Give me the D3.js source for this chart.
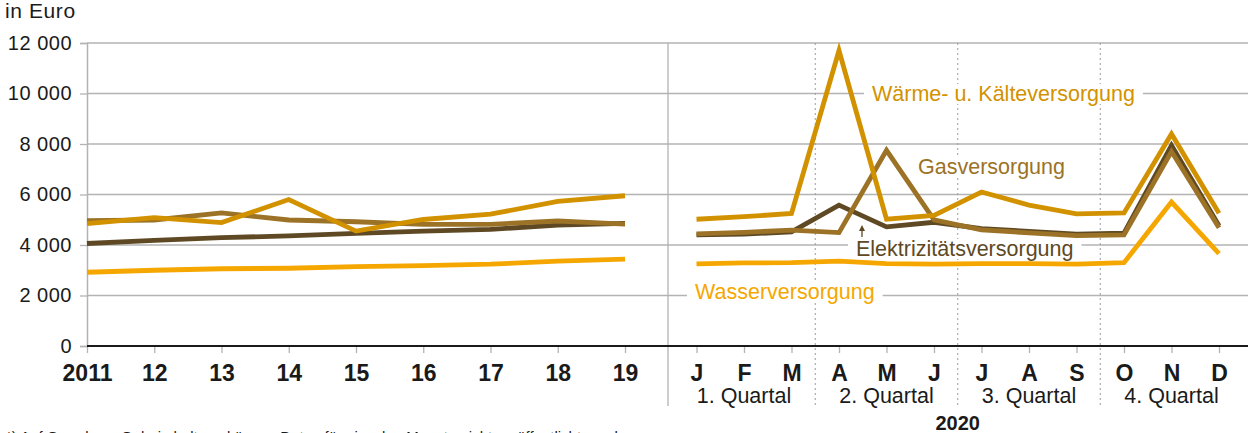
<!DOCTYPE html>
<html>
<head>
<meta charset="utf-8">
<script src="https://cdn.jsdelivr.net/npm/d3@7"></script>
<style>
  body { margin: 0; background: #fff; }
  text { font-family: "Liberation Sans", Arial, sans-serif; }
</style>
</head>
<body>
<script>
var years = ["2011", "12", "13", "14", "15", "16", "17", "18", "19"];
var months = ["J", "F", "M", "A", "M", "J", "J", "A", "S", "O", "N", "D"];
var quarters = ["1. Quartal", "2. Quartal", "3. Quartal", "4. Quartal"];
var yTicks = [0, 2000, 4000, 6000, 8000, 10000, 12000];

var waermeYears = [4850, 5080, 4890, 5800, 4550, 5010, 5220, 5730, 5950];
var gasYears = [4960, 4990, 5270, 4990, 4920, 4820, 4820, 4950, 4830];
var elektYears = [4060, 4180, 4290, 4360, 4460, 4550, 4620, 4790, 4860];
var wasserYears = [2920, 3000, 3060, 3080, 3140, 3180, 3240, 3360, 3440];

var waermeMonths = [5020, 5120, 5250, 11700, 5020, 5170, 6100, 5580, 5230, 5270, 8400, 5260];
var gasMonths = [4440, 4500, 4590, 4490, 7750, 5000, 4600, 4480, 4370, 4400, 7700, 4680];
var elektMonths = [4400, 4430, 4520, 5580, 4720, 4900, 4650, 4540, 4430, 4470, 7950, 4760];
var wasserMonths = [3250, 3290, 3300, 3360, 3260, 3240, 3260, 3260, 3240, 3300, 5700, 3660];

var series = [
  {name: "Wasserversorgung", color: "#f5a700", years: wasserYears, months: wasserMonths},
  {name: "Elektrizitätsversorgung", color: "#5e4924", years: elektYears, months: elektMonths},
  {name: "Gasversorgung", color: "#9b7226", years: gasYears, months: gasMonths},
  {name: "Wärme- u. Kälteversorgung", color: "#d29200", years: waermeYears, months: waermeMonths}
];

var W = 1248, H = 433;
var plotL = 87, plotR = 1248, plotT = 43, plotB = 346;

var svg = d3.select("body").append("svg")
    .attr("width", W)
    .attr("height", H);

var y = d3.scaleLinear().domain([0, 12000]).range([plotB, plotT]);
var xYear = d3.scalePoint().domain(years).range([87, 625]);
var xMonth = d3.scalePoint().domain(d3.range(12)).range([696.5, 1219]);
var step = xMonth.step();

// gridlines
svg.append("g").selectAll("line")
    .data(yTicks.filter(function(d) { return d > 0; }))
    .enter().append("line")
    .attr("x1", plotL).attr("x2", plotR)
    .attr("y1", function(d) { return y(d); })
    .attr("y2", function(d) { return y(d); })
    .attr("stroke", "#b3b3b3")
    .attr("stroke-width", 1.3);

// y axis
var yAxis = d3.axisLeft(y).tickValues(yTicks).tickSize(7).tickPadding(8)
    .tickFormat(function(d) { return d3.format(",")(d).replace(",", " "); });
var gy = svg.append("g").attr("transform", "translate(" + plotL + ",0)").call(yAxis);
gy.select(".domain").attr("stroke", "#b3b3b3").attr("stroke-width", 1.5);
gy.selectAll(".tick line").attr("stroke", "#b3b3b3").attr("stroke-width", 1.3);
gy.selectAll(".tick text")
    .attr("font-size", 20).attr("fill", "#1a1a1a")
    .style("font-family", "Liberation Sans, Arial, sans-serif")
    .style("letter-spacing", "0.5px");

svg.append("text").attr("x", 5).attr("y", 18)
    .attr("font-size", 21).attr("fill", "#1a1a1a")
    .style("letter-spacing", "0.6px").text("in Euro");

// divider and quarter separators
svg.append("line").attr("x1", 668).attr("x2", 668).attr("y1", plotT).attr("y2", 406)
    .attr("stroke", "#b3b3b3").attr("stroke-width", 1.3);
svg.append("g").selectAll("line")
    .data([1, 2, 3])
    .enter().append("line")
    .attr("x1", function(q) { return xMonth(q * 3) - step / 2; })
    .attr("x2", function(q) { return xMonth(q * 3) - step / 2; })
    .attr("y1", plotT).attr("y2", 406)
    .attr("stroke", "#9a9a9a").attr("stroke-width", 1)
    .attr("stroke-dasharray", "2,3");

// x axes
var gx1 = svg.append("g").attr("transform", "translate(0," + plotB + ")")
    .call(d3.axisBottom(xYear).tickSize(7).tickPadding(12));
var gx2 = svg.append("g").attr("transform", "translate(0," + plotB + ")")
    .call(d3.axisBottom(xMonth).tickSize(7).tickPadding(12)
      .tickFormat(function(i) { return months[i]; }));
[gx1, gx2].forEach(function(g) {
  g.select(".domain").remove();
  g.selectAll(".tick line").attr("stroke", "#b3b3b3").attr("stroke-width", 1.3);
  g.selectAll(".tick text")
      .attr("font-size", 23).attr("font-weight", "bold").attr("fill", "#1a1a1a")
      .style("font-family", "Liberation Sans, Arial, sans-serif");
});
svg.append("line").attr("x1", plotL).attr("x2", plotR).attr("y1", plotB).attr("y2", plotB)
    .attr("stroke", "#1a1a1a").attr("stroke-width", 2);

svg.append("g").selectAll("text")
    .data(quarters)
    .enter().append("text")
    .attr("x", function(d, i) { return xMonth(i * 3 + 1); })
    .attr("y", 403)
    .attr("text-anchor", "middle")
    .attr("font-size", 21.5).attr("fill", "#1a1a1a")
    .text(function(d) { return d; });

svg.append("text").attr("x", xMonth(5) + step / 2).attr("y", 430)
    .attr("text-anchor", "middle").attr("font-size", 20).attr("font-weight", "bold")
    .attr("fill", "#1a1a1a").text("2020");

svg.append("text").attr("x", 6).attr("y", 442)
    .attr("font-size", 15).attr("fill", "#1a1a1a")
    .text("*)  Auf Grund von Geheimhaltung können Daten für einzelne Monate nicht veröffentlicht werden.");

// series labels (white background cuts the gridlines)
var labels = [
  {s: 3, x: 872, y: 101, arrow: false},
  {s: 2, x: 918, y: 174, arrow: false},
  {s: 1, x: 856, y: 256, arrow: true},
  {s: 0, x: 695, y: 299, arrow: false}
];
var lg = svg.append("g");
labels.forEach(function(l) {
  var t = lg.append("text").attr("x", l.x).attr("y", l.y)
      .attr("font-size", 21.5).attr("fill", series[l.s].color)
      .text(series[l.s].name);
  var bb = t.node().getBBox();
  lg.insert("rect", "text")
      .attr("x", bb.x - 8).attr("y", bb.y + 2)
      .attr("width", bb.width + 16).attr("height", bb.height - 4)
      .attr("fill", "#fff");
  if (l.arrow) {
    var ax = l.x + 6;
    lg.append("line").attr("x1", ax).attr("x2", ax)
        .attr("y1", l.y - 19).attr("y2", l.y - 27)
        .attr("stroke", series[l.s].color).attr("stroke-width", 1.3);
    lg.append("path")
        .attr("d", "M" + (ax - 3) + "," + (l.y - 25) + "L" + ax + "," + (l.y - 31) + "L" + (ax + 3) + "," + (l.y - 25) + "Z")
        .attr("fill", series[l.s].color);
  }
});

// lines
var lineYear = d3.line()
    .x(function(d, i) { return xYear(years[i]); })
    .y(function(d) { return y(d); });
var lineMonth = d3.line()
    .x(function(d, i) { return xMonth(i); })
    .y(function(d) { return y(d); });

var lines = svg.append("g");
series.forEach(function(s) {
  [lineYear(s.years), lineMonth(s.months)].forEach(function(p) {
    lines.append("path").attr("d", p)
        .attr("fill", "none").attr("stroke", s.color)
        .attr("stroke-width", 4.8).attr("stroke-linejoin", "miter");
  });
});
</script>
</body>
</html>
